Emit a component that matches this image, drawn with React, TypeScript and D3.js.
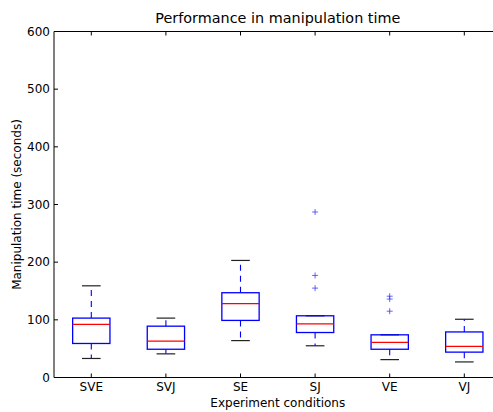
import React from "react"
import * as d3 from "d3"

// conditions on the x axis
const conditions = ["SVE", "SVJ", "SE", "SJ", "VE", "VJ"]
// five-number summaries (seconds)
const whiskerLow = [33, 41, 64, 55, 31, 27]
const q1 = [59, 49, 99, 78, 49, 44]
const medians = [92, 63, 128, 93, 61, 54]
const q3 = [103, 89, 147, 107, 74, 79]
const whiskerHigh = [159, 103, 203, 107, 74, 101]
const fliers = [[], [], [], [287, 177, 155], [141, 136, 115], []]
const yTicks = [0, 100, 200, 300, 400, 500, 600]

const W = 493
const H = 412
const margin = { left: 54, top: 31.5, bottom: 377.5 }
const FONT = "DejaVu Sans, sans-serif"

export default function App() {
    const x = d3.scaleLinear().domain([0.5, 6.5]).range([margin.left, margin.left + 6 * 74.6])
    const y = d3.scaleLinear().domain([0, 600]).range([margin.bottom, margin.top])
    const unit = x(2) - x(1)
    const boxW = unit * 0.5
    const capW = unit * 0.25
    // the axes run past the right edge of the picture
    const right = W + 2

    return (
        <div style={{ position: "absolute", left: 0, top: 0, width: W, height: H, overflow: "hidden", background: "#fff" }}>
            <svg width={W} height={H} style={{ display: "block" }}>
                <rect x={0} y={0} width={W} height={H} fill="#fff" />
                <text x={(margin.left + x(6.5)) / 2} y={23} textAnchor="middle" fontFamily={FONT} fontSize={14.4} fill="#000">
                    Performance in manipulation time
                </text>

                {conditions.map((c, i) => {
                    const cx = x(i + 1)
                    return (
                        <g key={c}>
                            <line x1={cx} x2={cx} y1={y(q3[i])} y2={y(whiskerHigh[i])} stroke="#0000ff" strokeWidth={1.1} strokeDasharray="6,5" />
                            <line x1={cx} x2={cx} y1={y(q1[i])} y2={y(whiskerLow[i])} stroke="#0000ff" strokeWidth={1.1} strokeDasharray="6,5" />
                            <line x1={cx - capW / 2} x2={cx + capW / 2} y1={y(whiskerHigh[i])} y2={y(whiskerHigh[i])} stroke="#222" strokeWidth={1.2} />
                            <line x1={cx - capW / 2} x2={cx + capW / 2} y1={y(whiskerLow[i])} y2={y(whiskerLow[i])} stroke="#222" strokeWidth={1.2} />
                            <rect x={cx - boxW / 2} y={y(q3[i])} width={boxW} height={y(q1[i]) - y(q3[i])} fill="none" stroke="#0000ff" strokeWidth={1.3} />
                            <line x1={cx - boxW / 2} x2={cx + boxW / 2} y1={y(medians[i])} y2={y(medians[i])} stroke="#ff0000" strokeWidth={1.3} />
                            {fliers[i].map((v, k) => (
                                <path key={k} d={`M${cx - 3},${y(v)}H${cx + 3}M${cx},${y(v) - 3}V${y(v) + 3}`} stroke="#3333ff" strokeOpacity={0.75} strokeWidth={1} />
                            ))}
                        </g>
                    )
                })}

                <line x1={margin.left} x2={margin.left} y1={margin.top} y2={margin.bottom} stroke="#000" strokeWidth={1} />
                <line x1={margin.left} x2={right} y1={margin.top} y2={margin.top} stroke="#000" strokeWidth={1} />
                <line x1={margin.left} x2={right} y1={margin.bottom} y2={margin.bottom} stroke="#000" strokeWidth={1} />

                {yTicks.map((t) => (
                    <g key={t}>
                        <line x1={margin.left} x2={margin.left + 4} y1={y(t)} y2={y(t)} stroke="#000" />
                        <text x={margin.left - 4} y={y(t)} dy="0.35em" textAnchor="end" fontFamily={FONT} fontSize={12} fill="#000">
                            {t}
                        </text>
                    </g>
                ))}

                {conditions.map((c, i) => (
                    <g key={c}>
                        <line x1={x(i + 1)} x2={x(i + 1)} y1={margin.bottom} y2={margin.bottom - 4} stroke="#000" />
                        <line x1={x(i + 1)} x2={x(i + 1)} y1={margin.top} y2={margin.top + 4} stroke="#000" />
                        <text x={x(i + 1)} y={margin.bottom + 13} textAnchor="middle" fontFamily={FONT} fontSize={12} fill="#000">
                            {c}
                        </text>
                    </g>
                ))}

                <text x={(margin.left + x(6.5)) / 2} y={407} textAnchor="middle" fontFamily={FONT} fontSize={12} fill="#000">
                    Experiment conditions
                </text>
                <text
                    transform={`translate(21,${(margin.top + margin.bottom) / 2}) rotate(-90)`}
                    textAnchor="middle"
                    fontFamily={FONT}
                    fontSize={12}
                    fill="#000"
                >
                    Manipulation time (seconds)
                </text>
            </svg>
        </div>
    )
}
